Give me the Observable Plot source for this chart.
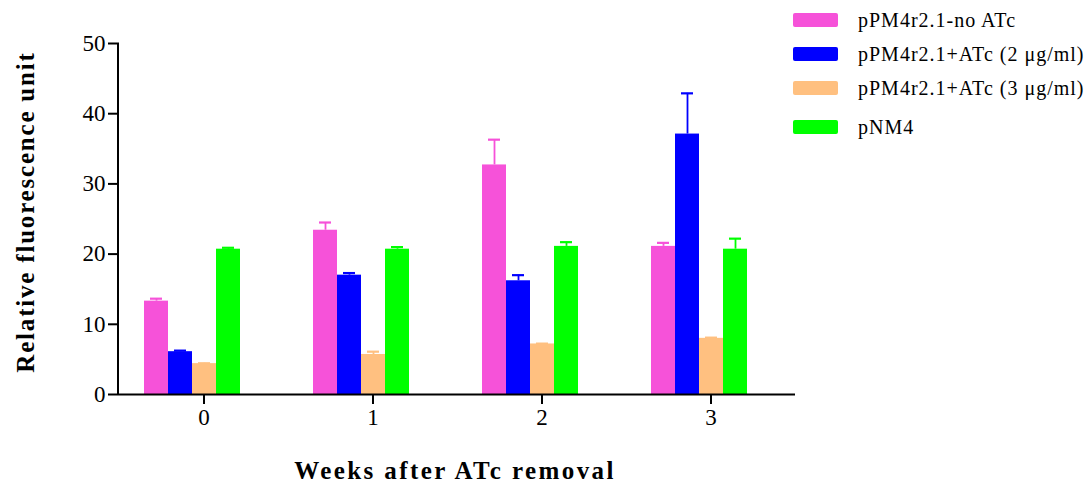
<!DOCTYPE html>
<html>
<head>
<meta charset="utf-8">
<script src="https://cdn.jsdelivr.net/npm/d3@7"></script>
<script src="https://cdn.jsdelivr.net/npm/@observablehq/plot@0.6"></script>
<style>
  html, body { margin: 0; padding: 0; background: #fff; }
  #wrap { position: relative; width: 1089px; height: 486px; font-family: "Liberation Serif", "Times New Roman", serif; }
  #chart { position: absolute; left: 0; top: 0; }
  #chart svg text { font-size: 23px !important; fill: black; }
  .ylab { position: absolute; left: 26px; top: 212px; transform: translate(-50%, -50%) rotate(-90deg); font-weight: bold; font-size: 25px; letter-spacing: 1.8px; white-space: nowrap; }
  .xlab { position: absolute; left: 455px; top: 471px; transform: translate(-50%, -50%); font-weight: bold; font-size: 25px; letter-spacing: 2.4px; white-space: nowrap; }
  .legend { position: absolute; left: 793px; top: 0; font-size: 20px; letter-spacing: 1px; }
  .legend .row { position: absolute; left: 0; height: 20px; display: flex; align-items: center; white-space: nowrap; }
  .legend .sw { width: 45px; height: 14px; border-radius: 2px; margin-right: 20px; }
</style>
</head>
<body>
<div id="wrap">
  <div id="chart"></div>
  <div class="ylab">Relative fluorescence unit</div>
  <div class="xlab">Weeks after ATc removal</div>
  <div class="legend" id="legend"></div>
</div>
<script>
// ---- data ----
const weeks = ["0", "1", "2", "3"];
const seriesNames = ["pPM4r2.1-no ATc", "pPM4r2.1+ATc (2 μg/ml)", "pPM4r2.1+ATc (3 μg/ml)", "pNM4"];
const seriesColors = ["#f652d9", "#0000ff", "#ffc080", "#00ff00"];
const noATc = [13.3, 23.4, 32.7, 21.1];
const noATcErr = [0.35, 1.1, 3.6, 0.5];
const atc2 = [6.1, 17.0, 16.2, 37.1];
const atc2Err = [0.15, 0.3, 0.8, 5.8];
const atc3 = [4.4, 5.7, 7.2, 8.0];
const atc3Err = [0.05, 0.4, 0.05, 0.1];
const pnm4 = [20.7, 20.7, 21.1, 20.7];
const pnm4Err = [0.2, 0.3, 0.6, 1.5];
const yTicks = [0, 10, 20, 30, 40, 50];

const valueSets = [noATc, atc2, atc3, pnm4];
const errSets = [noATcErr, atc2Err, atc3Err, pnm4Err];
const data = [];
weeks.forEach((w, i) => {
  seriesNames.forEach((s, j) => {
    data.push({week: w, series: s, value: valueSets[j][i], err: errSets[j][i]});
  });
});

const plot = Plot.plot({
  width: 1089,
  height: 486,
  marginLeft: 118,
  marginRight: 293,
  marginTop: 43,
  marginBottom: 92,
  style: {fontFamily: "'Liberation Serif', 'Times New Roman', serif", fontSize: "23px", color: "black", background: "transparent"},
  fx: {domain: weeks, padding: 0, label: null},
  x: {domain: [...seriesNames, "_gap"], paddingInner: 0, paddingOuter: 0.92, axis: null},
  y: {domain: [0, 50]},
  color: {domain: seriesNames, range: seriesColors},
  marks: [
    Plot.ruleX(data, {fx: "week", x: "series", y1: "value", y2: d => d.value + d.err, stroke: "series", strokeWidth: 1.8}),
    Plot.tickY(data, {fx: "week", x: "series", y: d => d.value + d.err, stroke: "series", strokeWidth: 2.2, insetLeft: 6, insetRight: 6}),
    Plot.barY(data, {fx: "week", x: "series", y: "value", fill: "series"}),
    Plot.ruleY([0], {stroke: "black", strokeWidth: 2}),
    Plot.axisY({ticks: yTicks, tickSize: 11, tickPadding: 3, label: null, strokeWidth: 2}),
    Plot.axisFx({anchor: "bottom", tickSize: 10, tickPadding: 4, label: null, strokeWidth: 2})
  ]
});

// y-axis baseline drawn with the plot's own y scale
const ys = plot.scale("y");
d3.select(plot).append("line")
  .attr("x1", 118).attr("x2", 118)
  .attr("y1", ys.apply(0) + 1).attr("y2", ys.apply(50))
  .attr("stroke", "black").attr("stroke-width", 2);

document.getElementById("chart").appendChild(plot);

// legend
const legendTops = [10, 44, 78, 117];
const leg = document.getElementById("legend");
seriesNames.forEach((s, i) => {
  const row = document.createElement("div");
  row.className = "row";
  row.style.top = legendTops[i] + "px";
  row.innerHTML = `<div class="sw" style="background:${seriesColors[i]}"></div><span>${s}</span>`;
  leg.appendChild(row);
});
</script>
</body>
</html>
